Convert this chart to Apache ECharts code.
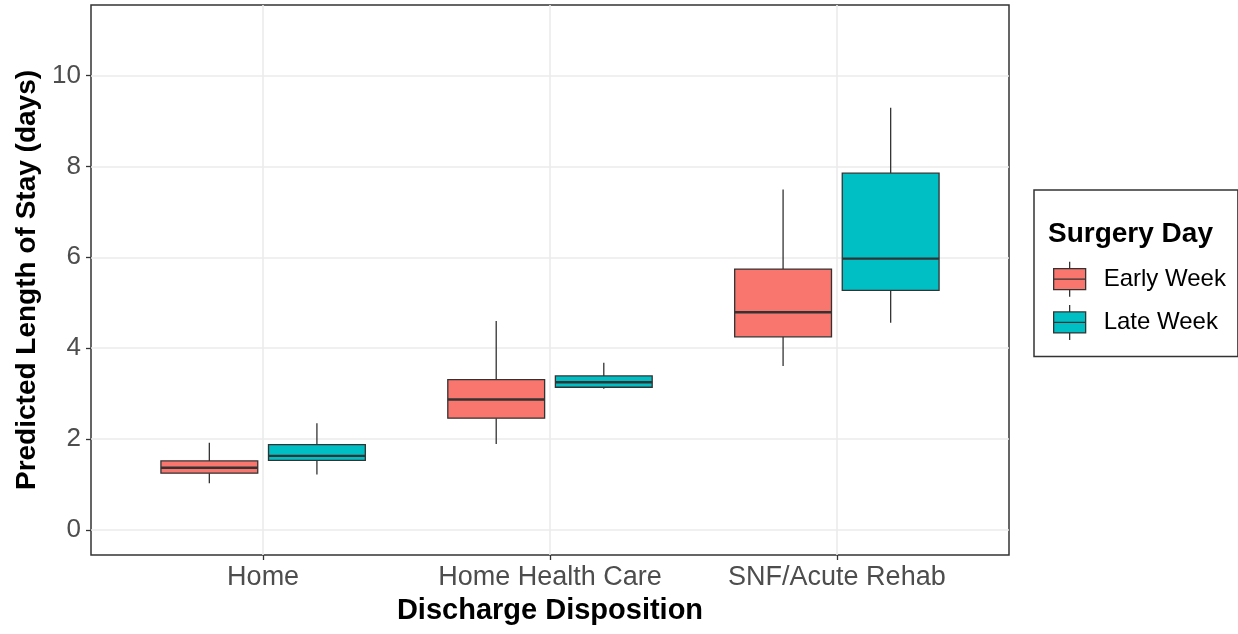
<!DOCTYPE html>
<html>
<head>
<meta charset="utf-8">
<script src="https://cdn.jsdelivr.net/npm/echarts@6/dist/echarts.min.js"></script>
<style>
html,body{margin:0;padding:0;background:#fff;}
#chart{width:1238px;height:634px;}
</style>
</head>
<body>
<div id="chart"></div>
<script>
// ---- data ----
const categories = ['Home', 'Home Health Care', 'SNF/Acute Rehab'];
const seriesNames = ['Early Week', 'Late Week'];
// [lower whisker, Q1, median, Q3, upper whisker]
const earlyWeek = [
  [1.03, 1.25, 1.37, 1.52, 1.92],
  [1.89, 2.46, 2.87, 3.31, 4.60],
  [3.61, 4.25, 4.79, 5.74, 7.49]
];
const lateWeek = [
  [1.22, 1.53, 1.63, 1.88, 2.35],
  [3.11, 3.14, 3.25, 3.39, 3.68],
  [4.56, 5.27, 5.97, 7.85, 9.29]
];
const yTicks = [0, 2, 4, 6, 8, 10];
const xTicks = [1, 2, 3];

// ---- style ----
const colors = ['#F8766D', '#00BFC4'];
const FONT = "'Liberation Sans', Arial, sans-serif";
const DODGE = 0.1875;
const BOXW = 0.3375;

function makeData(arr) {
  return arr.map((v, i) => [i + 1].concat(v));
}

function renderItem(params, api) {
  const off = params.seriesIndex === 0 ? -DODGE : DODGE;
  const cx = api.value(0) + off;
  const hw = api.size([BOXW, 0])[0] / 2;
  const p = (i) => api.coord([cx, api.value(i)]);
  const low = p(1), q1 = p(2), med = p(3), q3 = p(4), high = p(5);
  const x = low[0];
  const fill = api.visual('color');
  const lineStyle = { stroke: '#333333', lineWidth: 1.3 };
  return {
    type: 'group',
    children: [
      { type: 'line', shape: { x1: x, y1: q3[1], x2: x, y2: high[1] }, style: lineStyle },
      { type: 'line', shape: { x1: x, y1: q1[1], x2: x, y2: low[1] }, style: lineStyle },
      { type: 'rect', shape: { x: x - hw, y: q3[1], width: hw * 2, height: q1[1] - q3[1] },
        style: { fill: fill, stroke: '#333333', lineWidth: 1.3 } },
      { type: 'line', shape: { x1: x - hw, y1: med[1], x2: x + hw, y2: med[1] },
        style: { stroke: '#333333', lineWidth: 2.4 } }
    ]
  };
}

const boxIcon = 'path://M0,7 L32,7 L32,28 L0,28 Z M0,17.5 L32,17.5 M16,0 L16,7 M16,28 L16,35';

const chart = echarts.init(document.getElementById('chart'), null, { renderer: 'canvas' });
chart.setOption({
  animation: false,
  backgroundColor: '#ffffff',
  textStyle: { fontFamily: FONT },
  grid: {
    left: 91, top: 5, width: 918, height: 550,
    show: true, borderColor: '#333333', borderWidth: 1.5, backgroundColor: 'transparent'
  },
  title: {
    text: 'Surgery Day',
    left: 1048, top: 220, padding: 0,
    textStyle: { fontFamily: FONT, fontSize: 28, fontWeight: 'bold', color: '#000000' }
  },
  legend: {
    orient: 'vertical',
    left: 1034, top: 190,
    padding: [71, 12, 16, 19],
    borderColor: '#333333', borderWidth: 1.5,
    itemWidth: 32, itemHeight: 35, itemGap: 7,
    itemStyle: { borderColor: '#333333', borderWidth: 1.3 },
    textStyle: { fontFamily: FONT, fontSize: 24, color: '#000000', padding: [0, 0, 0, 13] },
    data: seriesNames.map(n => ({ name: n, icon: boxIcon }))
  },
  xAxis: {
    type: 'value',
    min: 0.4, max: 3.6,
    name: 'Discharge Disposition',
    nameLocation: 'middle', nameGap: 41,
    nameTextStyle: { fontFamily: FONT, fontSize: 29, fontWeight: 'bold', color: '#000000' },
    axisLine: { show: false, onZero: false },
    axisTick: { show: true, customValues: xTicks, length: 5, lineStyle: { color: '#333333', width: 1.3 } },
    axisLabel: {
      customValues: xTicks, margin: 9,
      formatter: (v) => categories[Math.round(v) - 1] || '',
      fontFamily: FONT, fontSize: 27, color: '#4d4d4d'
    },
    splitLine: { show: true, lineStyle: { color: '#ebebeb', width: 1.6 } }
  },
  yAxis: {
    type: 'value',
    min: -0.55, max: 11.55,
    name: 'Predicted Length of Stay (days)',
    nameLocation: 'middle', nameGap: 50,
    nameTextStyle: { fontFamily: FONT, fontSize: 28, fontWeight: 'bold', color: '#000000' },
    axisLine: { show: false, onZero: false },
    axisTick: { show: true, customValues: yTicks, length: 5, lineStyle: { color: '#333333', width: 1.3 } },
    axisLabel: { customValues: yTicks, margin: 10, fontFamily: FONT, fontSize: 26, color: '#4d4d4d' },
    splitLine: { show: true, lineStyle: { color: '#ebebeb', width: 1.6 } }
  },
  series: [
    {
      name: seriesNames[0], type: 'custom', renderItem: renderItem,
      itemStyle: { color: colors[0] },
      encode: { x: 0, y: [1, 2, 3, 4, 5] },
      data: makeData(earlyWeek)
    },
    {
      name: seriesNames[1], type: 'custom', renderItem: renderItem,
      itemStyle: { color: colors[1] },
      encode: { x: 0, y: [1, 2, 3, 4, 5] },
      data: makeData(lateWeek)
    }
  ]
});
</script>
</body>
</html>
